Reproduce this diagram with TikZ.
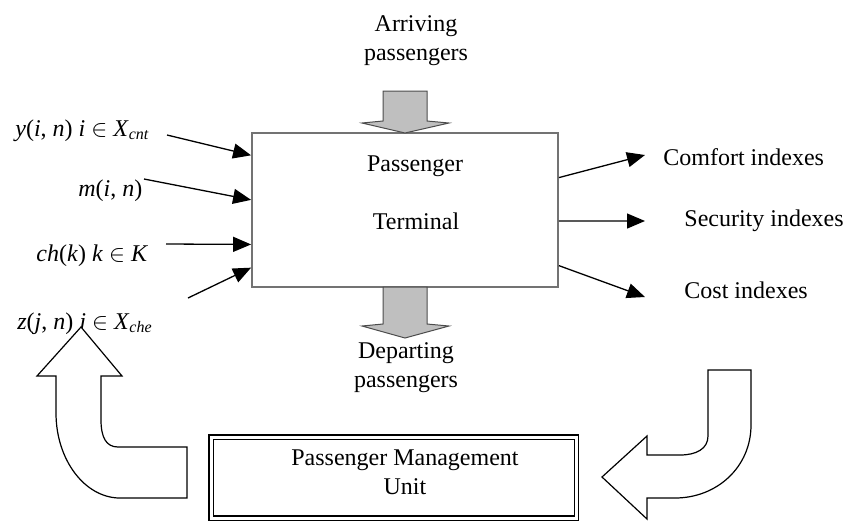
\documentclass[tikz,border=0pt]{standalone}
\usepackage{fontspec}
\setmainfont{Liberation Serif}
\usetikzlibrary{arrows.meta,calc}
\begin{document}
\begin{tikzpicture}[x=0.5pt,y=-0.5pt,
  txt/.style={font=\fontsize{12}{14.5}\selectfont, inner sep=0pt},
  sig/.style={line width=0.65pt, -{Triangle[length=9pt,width=7.5pt]}},
  flow/.style={draw=black!70, line width=0.5pt, fill=black!25},
  bendarrow/.style={draw=black, line width=0.6pt, fill=white, line join=miter},
  termbox/.style={draw=black!55, line width=0.9pt, minimum width=153pt, minimum height=77pt},
  unitbox/.style={draw, double, double distance=1.5pt, line width=0.6pt, minimum width=182.75pt, minimum height=40.5pt},
  ]
\useasboundingbox (0,0) rectangle (845,521);

% passenger terminal
\node[termbox] (term) at (405,210) {};
\node[txt] (t1) at (415,166) {Passenger};
\node[txt] (t2) at (416,221) {Terminal};

% passenger flows in and out
\node[txt, align=center] (arr) at (416,41) {Arriving\\passengers};
\draw[flow] (383,91) -- (427,91) -- (427,121) -- (449,123) -- (405,133) -- (362,123) -- (383,121) -- cycle;
\draw[flow] (383,287) -- (427,287) -- (427,324) -- (449,326) -- (405,338) -- (362,326) -- (383,324) -- cycle;
\node[txt, align=center] (dep) at (406,368) {Departing\\passengers};

% control inputs
\node[txt, anchor=base west] (ly) at (15,136) {\textit{y}(\textit{i}, \textit{n}) \textit{i} $\in$ \textit{X}\textsubscript{\textit{cnt}}};
\node[txt, anchor=base west] (lm) at (78,196) {\textit{m}(\textit{i}, \textit{n})};
\node[txt, anchor=base west] (lch) at (36,261) {\textit{ch}(\textit{k}) \textit{k} $\in$ \textit{K}};
\node[txt, anchor=base west] (lz) at (17,329) {\textit{z}(\textit{j}, \textit{n}) \textit{j} $\in$ \textit{X}\textsubscript{\textit{che}}};

\coordinate (i1) at (167,135);
\coordinate (i2) at (144,179);
\coordinate (i3) at (166,244);
\coordinate (i4) at (188,298);
\draw[sig] (i1) -- ($(term.north west)!0.149!(term.south west)$);
\draw[sig] (i2) -- ($(term.north west)!0.435!(term.south west)$);
\draw[sig] (i3) -- ($(term.north west)!0.721!(term.south west)$);
\draw[sig] (i4) -- ($(term.north west)!0.870!(term.south west)$);

% performance outputs
\node[txt, anchor=base west] (oc) at (663,165) {Comfort indexes};
\node[txt, anchor=base west] (os) at (684,226) {Security indexes};
\node[txt, anchor=base west] (ok) at (684,298) {Cost indexes};

\coordinate (o1) at (645,155);
\coordinate (o2) at (645,221);
\coordinate (o3) at (645,297);
\draw[sig] ($(term.north east)!0.292!(term.south east)$) -- (o1);
\draw[sig] ($(term.north east)!0.571!(term.south east)$) -- (o2);
\draw[sig] ($(term.north east)!0.857!(term.south east)$) -- (o3);

% management unit
\node[unitbox] (pmu) at (393.75,477.5) {};
\node[txt, align=center] (pmut) at (405,472) {Passenger Management\\Unit};

% feedback loop arrows
\draw[bendarrow] (81,327) -- (122,376) -- (101,376) -- (101,420)
  .. controls (101,437) and (106,447) .. (118,447) -- (187,447) -- (187,498) -- (120,498)
  .. controls (85,498) and (56,460) .. (56,413) -- (56,376) -- (37,376) -- cycle;
\draw[bendarrow] (708,370) -- (751,370) -- (751,425)
  .. controls (751,467) and (717,498) .. (675,498) -- (647,498) -- (647,519) -- (602,477)
  -- (647,436) -- (647,455) -- (680,455) .. controls (696,455) and (708,449) .. (708,436) -- cycle;
\end{tikzpicture}
\end{document}
